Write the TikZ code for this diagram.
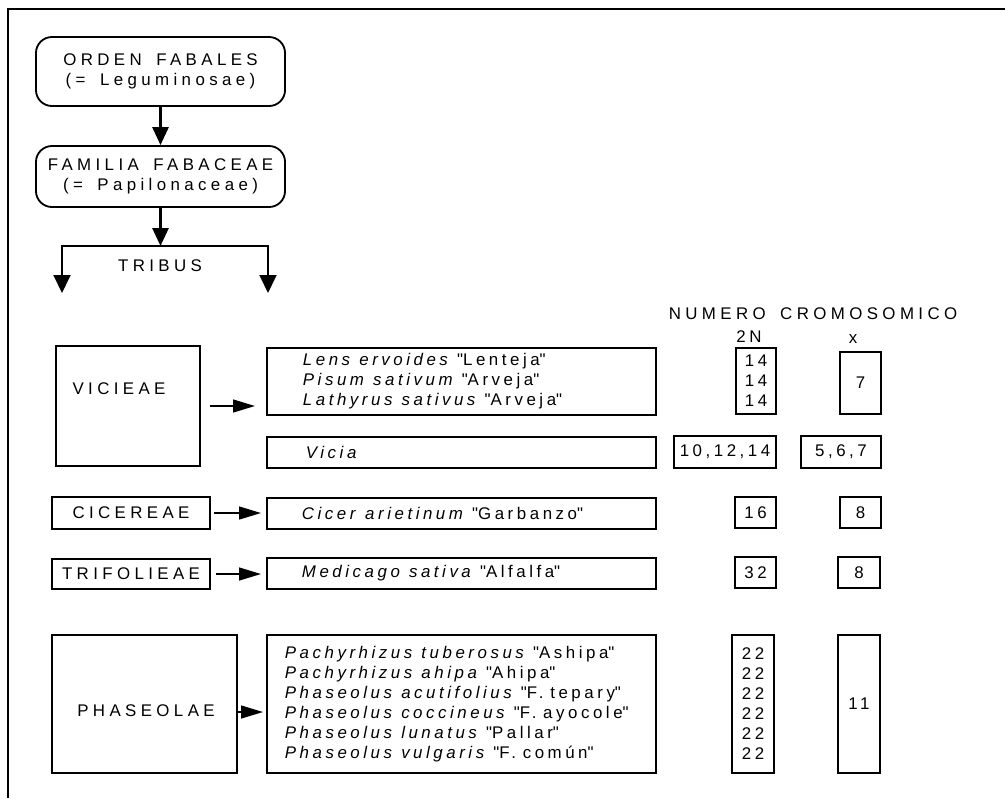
\documentclass[tikz,border=0pt]{standalone}
\usepackage{fontspec}
\setmainfont{Liberation Sans}[LetterSpace=21,WordSpace=2.2]
\newfontfamily\mayus{Liberation Sans}[LetterSpace=26,WordSpace=1.6]
\newcommand{\cm}{\textquotedbl}
\newcommand{\nombre}[2]{\textit{#1} \textit{#2}}
\usetikzlibrary{arrows.meta}

\begin{document}
\begin{tikzpicture}[x=0.025cm,y=-0.025cm,
    every node/.style={font=\fontsize{12}{14.2}\selectfont},
    rotulo/.style={font=\fontsize{12}{14.2}\selectfont\mayus},
    caja/.style={draw,line width=1.3pt,inner sep=0pt,align=center},
    cajar/.style={caja,rotulo,rounded corners=0.4cm},
    especie/.style={caja,align=left},
    flechav/.style={line width=2pt,-{Triangle[length=0.45cm,width=0.4cm]}},
    flechad/.style={line width=2pt,{Triangle[length=0.45cm,width=0.42cm]}-{Triangle[length=0.45cm,width=0.42cm]}},
    flechah/.style={line width=1.4pt,-{Triangle[length=0.55cm,width=0.32cm]}}]
  \useasboundingbox (0,0) rectangle (1005,798);
  % marco
  \draw[line width=1.4pt] (8,798) -- (8,9) -- (1005,9);

  % orden y familia
  \node[cajar,minimum width=6.225cm,minimum height=1.725cm] (orden) at (160.5,71.5) {ORDEN FABALES\\(= Leguminosae)};
  \node[cajar,minimum width=6.225cm,minimum height=1.525cm] (familia) at (160.5,176.5) {FAMILIA FABACEAE\\(= Papilonaceae)};
  \coordinate (bmid) at (160.5,246);
  \coordinate (bizq) at (62,293);
  \coordinate (bder) at (268,293);
  \draw[flechav] (orden) -- (familia);
  \draw[flechav] (familia) -- (bmid);
  \draw[flechad] (bizq) |- (bmid) -| (bder);
  \node[rotulo] (tribus) at (160,266) {TRIBUS};

  % encabezado
  \node[rotulo] (numero) at (813,314) {NUMERO CROMOSOMICO};
  \node (dosn) at (749,337) {2N};
  \node (equis) at (853,339) {x};

  % tribus
  \node[caja,minimum width=3.6cm,minimum height=3cm] (vicieae) at (128,406) {};
  \node[rotulo] (vicieaet) at (119,389) {VICIEAE};
  \node[caja,rotulo,minimum width=3.95cm,minimum height=0.8cm] (cicereae) at (131,513) {CICEREAE};
  \node[caja,rotulo,minimum width=3.95cm,minimum height=0.75cm] (trifolieae) at (131,574) {TRIFOLIEAE};
  \node[caja,minimum width=4.625cm,minimum height=3.45cm] (phaseolae) at (144.5,704) {};
  \node[rotulo] (phaseolaet) at (146,711) {PHASEOLAE};

  % especies
  \node[especie,text width=7.925cm,inner xsep=0.9cm,minimum height=1.675cm] (lens) at (461.5,381.5)
    {\nombre{Lens}{ervoides} \cm Lenteja\cm\\ \nombre{Pisum}{sativum} \cm Arveja\cm\\ \nombre{Lathyrus}{sativus} \cm Arveja\cm};
  \node[especie,text width=7.775cm,inner xsep=0.975cm,minimum height=0.775cm] (vicia) at (461.5,452.5) {\textit{Vicia}};
  \node[especie,text width=7.975cm,inner xsep=0.875cm,minimum height=0.775cm] (cicer) at (461.5,513.5) {\nombre{Cicer}{arietinum} \cm Garbanzo\cm};
  \node[especie,text width=7.975cm,inner xsep=0.875cm,minimum height=0.775cm] (medicago) at (461.5,573.5) {\nombre{Medicago}{sativa} \cm Alfalfa\cm};
  \node[especie,text width=8.825cm,inner xsep=0.45cm,minimum height=3.45cm] (phaseolus) at (461.5,704)
    {\nombre{Pachyrhizus}{tuberosus} \cm Ashipa\cm\\ \nombre{Pachyrhizus}{ahipa} \cm Ahipa\cm\\
     \nombre{Phaseolus}{acutifolius} \cm F.\hspace{0.4em}tepary\cm\\ \nombre{Phaseolus}{coccineus} \cm F.\hspace{0.4em}ayocole\cm\\
     \nombre{Phaseolus}{lunatus} \cm Pallar\cm\\ \nombre{Phaseolus}{vulgaris} \cm F.\hspace{0.4em}común\cm};

  \draw[flechah,shorten <=0.225cm,shorten >=0.275cm] (vicieae.east) -- (vicieae.east -| lens.west);
  \draw[flechah,shorten <=0.075cm,shorten >=0.125cm] (cicereae.east) -- (cicereae.east -| cicer.west);
  \draw[flechah,shorten <=0.125cm,shorten >=0.125cm] (trifolieae.east) -- (trifolieae.east -| medicago.west);
  \draw[flechah,shorten >=0.075cm] ([yshift=-0.2cm]phaseolae.east) -- ([yshift=-0.2cm]phaseolus.west);

  % numero 2N
  \node[caja,minimum width=1cm,minimum height=1.65cm] (n14) at (756,381) {14\\14\\14};
  \node[caja,minimum width=2.55cm,minimum height=0.8cm] (n10) at (725,452) {10,12,14};
  \node[caja,minimum width=1.025cm,minimum height=0.775cm] (n16) at (755.5,512.5) {16};
  \node[caja,minimum width=1.025cm,minimum height=0.775cm] (n32) at (755.5,572.5) {32};
  \node[caja,minimum width=1.05cm,minimum height=3.45cm] (n22) at (753,704) {22\\22\\22\\22\\22\\22};

  % numero x
  \node[caja,minimum width=1.025cm,minimum height=1.55cm] (x7) at (860.5,383) {7};
  \node[caja,minimum width=2cm,minimum height=0.8cm] (x567) at (841,452) {5,6,7};
  \node[caja,minimum width=1.025cm,minimum height=0.775cm] (x8a) at (860.5,512.5) {8};
  \node[caja,minimum width=1.05cm,minimum height=0.775cm] (x8b) at (859,572.5) {8};
  \node[caja,minimum width=1.05cm,minimum height=3.45cm] (x11) at (859,704) {11};
\end{tikzpicture}
\end{document}
